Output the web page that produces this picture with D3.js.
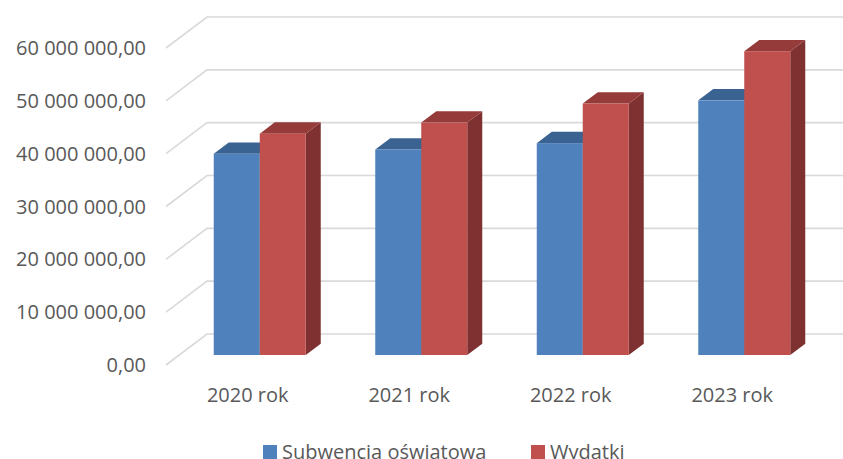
<!DOCTYPE html>
<html>
<head>
<meta charset="utf-8">
<script src="https://cdn.jsdelivr.net/npm/d3@7"></script>
<style>
body { margin:0; background:#fff; }
text { font-family:"Open Sans", sans-serif; fill:#595959; }
</style>
</head>
<body>
<script>
var years = ["2020 rok", "2021 rok", "2022 rok", "2023 rok"];
var series = ["Subwencja oświatowa", "Wydatki"];
var subwencja = [38100000, 38900000, 40100000, 48200000];
var wydatki = [41900000, 44000000, 47600000, 57500000];
var ticks = [0, 10000000, 20000000, 30000000, 40000000, 50000000, 60000000];

var colors = {
	"Subwencja oświatowa": { front:"#4F81BD", top:"#3B6392", side:"#34577f" },
	"Wydatki":             { front:"#C0504D", top:"#953B39", side:"#7E3130" }
};

var rows = years.map(function(y, i){
	return { year:y, values:[subwencja[i], wydatki[i]] };
});

var svg = d3.select("body")
	.append("svg")
	.attr("width", 843)
	.attr("height", 459);

// front floor plane
var y = d3.scaleLinear()
	.domain([0, 60000000])
	.range([365, 48]);

var x = d3.scaleBand()
	.domain(years)
	.range([167, 813]);

var x1 = d3.scaleBand()
	.domain(series)
	.range([-46, 46]);

// wall depth and bar depth
var wallDx = 41, wallDy = -31;
var barOffX = 12, barOffY = -10;
var barDx = 15, barDy = -11.3;

var fmt = function(v){
	var s = d3.format(",.2f")(v);
	return s.replace(/,/g, " ").replace(".", ",");
};

// gridlines: left wall diagonal + back wall horizontal
var grid = svg.append("g");
grid.selectAll().data(ticks)
	.enter().append("path")
	.attr("fill", "none")
	.attr("stroke", "#D9D9D9")
	.attr("stroke-width", 1.6)
	.attr("d", function(d){
		var x0 = 166, y0 = y(d);
		return "M"+x0+" "+y0+" L"+(x0+wallDx)+" "+(y0+wallDy)+" L843 "+(y0+wallDy);
	});

svg.append("g").selectAll().data(ticks)
	.enter().append("text")
	.attr("x", 146)
	.attr("y", function(d){ return y(d); })
	.attr("dy", "0.35em")
	.attr("text-anchor", "end")
	.style("font-size", "20px")
	.text(function(d){ return fmt(d); });

// bars
var base = y(0) + barOffY;
var group = svg.append("g").selectAll().data(rows)
	.enter().append("g")
	.attr("transform", function(d){
		return translate(x(d.year) + x.bandwidth()/2 + barOffX, 0);
	});

var bar = group.selectAll().data(function(d){
		return d.values.map(function(v, i){ return { key:series[i], value:v }; });
	})
	.enter().append("g");

bar.append("path")
	.attr("fill", function(d){ return colors[d.key].side; })
	.attr("d", function(d){
		var x0 = x1(d.key) + x1.bandwidth(), top = base - (y(0) - y(d.value));
		return "M"+x0+" "+top+" L"+(x0+barDx)+" "+(top+barDy)+" L"+(x0+barDx)+" "+(base+barDy)+" L"+x0+" "+base+"Z";
	});

bar.append("path")
	.attr("fill", function(d){ return colors[d.key].top; })
	.attr("d", function(d){
		var x0 = x1(d.key), x2 = x0 + x1.bandwidth(), top = base - (y(0) - y(d.value));
		return "M"+x0+" "+top+" L"+(x0+barDx)+" "+(top+barDy)+" L"+(x2+barDx)+" "+(top+barDy)+" L"+x2+" "+top+"Z";
	});

bar.append("rect")
	.attr("fill", function(d){ return colors[d.key].front; })
	.attr("x", function(d){ return x1(d.key); })
	.attr("width", x1.bandwidth())
	.attr("y", function(d){ return base - (y(0) - y(d.value)); })
	.attr("height", function(d){ return y(0) - y(d.value); });

// category labels
svg.append("g").selectAll().data(years)
	.enter().append("text")
	.attr("x", function(d){ return x(d) + x.bandwidth()/2; })
	.attr("y", 402)
	.attr("text-anchor", "middle")
	.style("font-size", "20px")
	.text(function(d){ return d; });

// legend
var legendX = [263, 531];
var legend = svg.append("g").selectAll().data(series)
	.enter().append("g")
	.attr("transform", function(d, i){ return translate(legendX[i], 445); });

legend.append("rect")
	.attr("width", 14)
	.attr("height", 14)
	.attr("fill", function(d){ return colors[d].front; });

legend.append("text")
	.attr("x", 19)
	.attr("y", 14)
	.style("font-size", "20px")
	.text(function(d){ return d; });

function translate(x,y){
	return "translate("+x+","+y+")";
}
</script>
</body>
</html>
